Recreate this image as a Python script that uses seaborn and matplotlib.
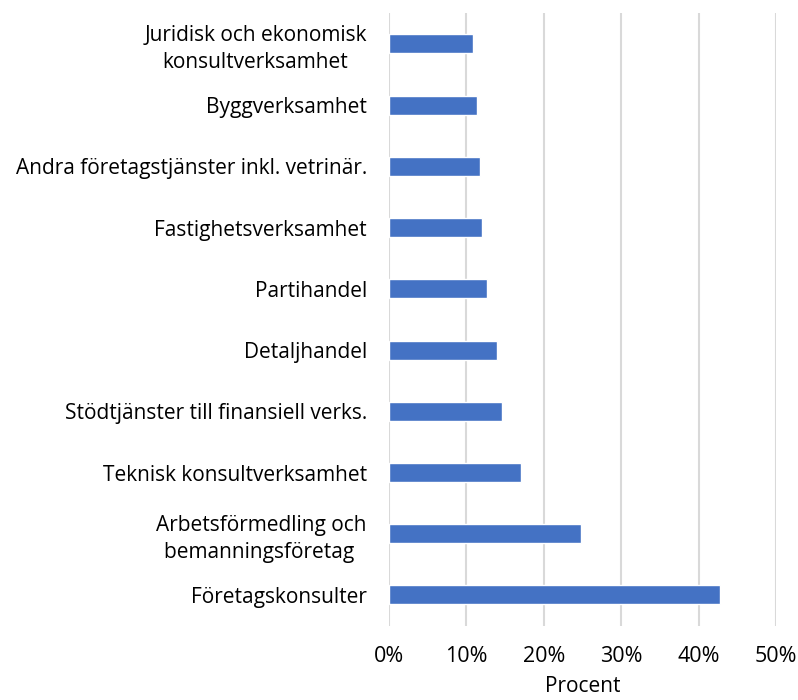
import matplotlib
matplotlib.use("Agg")
import matplotlib.pyplot as plt
import seaborn as sns
import pandas as pd
from matplotlib.ticker import FuncFormatter

# data (share in %)
categories = [
    "Juridisk och ekonomisk\nkonsultverksamhet",
    "Byggverksamhet",
    "Andra företagstjänster inkl. vetrinär.",
    "Fastighetsverksamhet",
    "Partihandel",
    "Detaljhandel",
    "Stödtjänster till finansiell verks.",
    "Teknisk konsultverksamhet",
    "Arbetsförmedling och\nbemanningsföretag ",
    "Företagskonsulter",
]
values = [10.8, 11.4, 11.7, 12.0, 12.7, 14.0, 14.6, 17.0, 24.8, 42.7]
x_ticks = [0, 10, 20, 30, 40, 50]

df = pd.DataFrame({"category": categories, "value": values})

sns.set_theme(style="white")
plt.rcParams["font.family"] = ["Open Sans", "DejaVu Sans"]

fig = plt.figure(figsize=(7.98, 7.0), dpi=100)
ax = fig.add_axes([0.4875, 0.1063, 0.485, 0.8747])

sns.barplot(data=df, x="value", y="category", color="#4472C4",
            width=0.31, saturation=1, ax=ax, zorder=3)

ax.set_xlim(0, 50)
ax.set_xticks(x_ticks)
ax.xaxis.set_major_formatter(FuncFormatter(lambda v, p: f"{v:.0f}%"))
ax.grid(axis="x", color="#d9d9d9", linewidth=1.5, zorder=0)
ax.grid(axis="y", visible=False)
for s in ax.spines.values():
    s.set_visible(False)

ax.tick_params(axis="x", length=0, pad=15, labelsize=15.5, colors="#000000")
ax.tick_params(axis="y", length=0, pad=16, labelsize=15, colors="#000000")
for lbl in ax.get_yticklabels():
    lbl.set_multialignment("center")
    lbl.set_linespacing(1.35)

ax.set_ylabel("")
ax.set_xlabel("Procent", fontsize=15, labelpad=6, color="#000000")

fig.savefig("out.png", dpi=100)
